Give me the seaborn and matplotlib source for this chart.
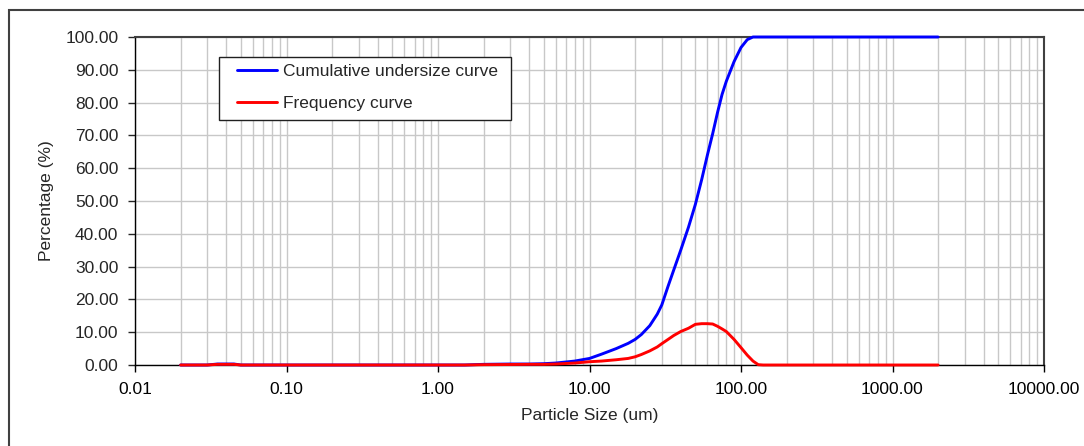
import matplotlib
matplotlib.use("Agg")
import matplotlib.pyplot as plt
import matplotlib.ticker as mticker
from matplotlib.patches import Rectangle
import seaborn as sns
import pandas as pd

# particle sizes (um) and the two curves (%)
sizes = [0.02, 0.03, 0.035, 0.04, 0.045, 0.05, 0.06, 0.1, 0.5, 1.0, 1.5, 2, 3, 4, 5,
         6, 8, 10, 12, 15, 18, 20, 22, 25, 28, 30, 33, 36, 40, 45, 50, 55, 60, 65,
         70, 75, 80, 90, 100, 110, 120, 130, 140, 200, 500, 1000, 2000]
cumulative = [0, 0, 0.3, 0.3, 0.3, 0, 0, 0, 0, 0, 0, 0.2, 0.3, 0.3, 0.4,
              0.6, 1.2, 2.0, 3.3, 5.0, 6.6, 7.8, 9.3, 12.0, 15.5, 18.3, 24.0, 29.0, 35.0, 42.0, 49.0, 56.5, 64.0, 70.5,
              77.0, 82.5, 86.5, 92.5, 96.8, 99.2, 100, 100, 100, 100, 100, 100, 100]
frequency = [0, 0, 0.2, 0.2, 0.2, 0, 0, 0, 0, 0, 0, 0.1, 0.15, 0.2, 0.2,
             0.3, 0.6, 1.0, 1.2, 1.6, 2.0, 2.5, 3.2, 4.3, 5.5, 6.5, 7.8, 9.0, 10.2, 11.2, 12.4, 12.6, 12.6, 12.5,
             11.8, 11.0, 10.2, 7.8, 5.3, 3.0, 1.2, 0.1, 0, 0, 0, 0, 0]

x_ticks = [0.01, 0.1, 1, 10, 100, 1000, 10000]
x_labels = ["0.01", "0.10", "1.00", "10.00", "100.00", "1000.00", "10000.00"]
y_ticks = list(range(0, 101, 10))

df = pd.DataFrame({"size": sizes, "cum": cumulative, "freq": frequency})

sns.set_style("white")
plt.rcParams['font.family'] = ['Liberation Sans', 'DejaVu Sans']

fig = plt.figure(figsize=(10.84, 4.46), dpi=100)
ax = fig.add_axes([135 / 1084, 1 - 365 / 446, 909 / 1084, 328 / 446])

sns.lineplot(data=df, x="size", y="cum", ax=ax, color="#0000ff", lw=2.1,
             estimator=None, sort=False, label="Cumulative undersize curve", clip_on=False, zorder=4)
sns.lineplot(data=df, x="size", y="freq", ax=ax, color="#ff0000", lw=2.1,
             estimator=None, sort=False, label="Frequency curve", clip_on=False, zorder=5)

ax.set_xscale("log")
ax.set_xlim(0.01, 10000)
ax.set_ylim(0, 100)
ax.set_xticks(x_ticks)
ax.set_xticklabels(x_labels)
ax.xaxis.set_minor_locator(mticker.LogLocator(base=10, subs=range(2, 10), numticks=20))
ax.xaxis.set_minor_formatter(mticker.NullFormatter())
ax.set_yticks(y_ticks)
ax.set_yticklabels(["%.2f" % v for v in y_ticks])

ax.grid(True, which="both", axis="x", color="#c8c8c8", lw=1.0)
ax.grid(True, which="major", axis="y", color="#c8c8c8", lw=1.0)
ax.set_axisbelow(True)

ax.tick_params(axis="x", which="major", direction="out", length=5, width=1, pad=7,
               labelsize=12.5, bottom=True, colors="black")
ax.tick_params(axis="x", which="minor", bottom=False)
ax.tick_params(axis="y", direction="out", length=5, width=1, pad=7, labelsize=12.5, left=True)

for s in ["left", "bottom"]:
    ax.spines[s].set_color("black")
    ax.spines[s].set_linewidth(1.0)
for s in ["top", "right"]:
    ax.spines[s].set_visible(True)
    ax.spines[s].set_color("#404040")
    ax.spines[s].set_linewidth(1.5)

ax.set_xlabel("Particle Size (um)", fontsize=12.5, labelpad=8)
ax.set_ylabel("Percentage (%)", fontsize=12.5, labelpad=8)

# legend box drawn separately so its padding can match the original
ax.add_patch(Rectangle(((219 - 135) / 909, (365 - 120) / 328), (511 - 219) / 909, 63 / 328,
                       transform=ax.transAxes, facecolor="white", edgecolor="#202020",
                       lw=1.0, zorder=6))
leg = ax.legend(loc="upper left", bbox_to_anchor=((237 - 135) / 909, (365 - 64) / 328),
                borderaxespad=0, borderpad=0, frameon=False, fontsize=12.5,
                handlelength=2.3, handletextpad=0.35, labelspacing=0.98)
leg.set_zorder(7)

# outer chart frame (only left and top edges fall inside the picture)
fig.patches.append(Rectangle((9 / 1084, -0.1), 1.2, 1.1 - 10 / 446, transform=fig.transFigure,
                             fill=False, edgecolor="#404040", lw=1.5))

fig.savefig("out.png", dpi=100)
